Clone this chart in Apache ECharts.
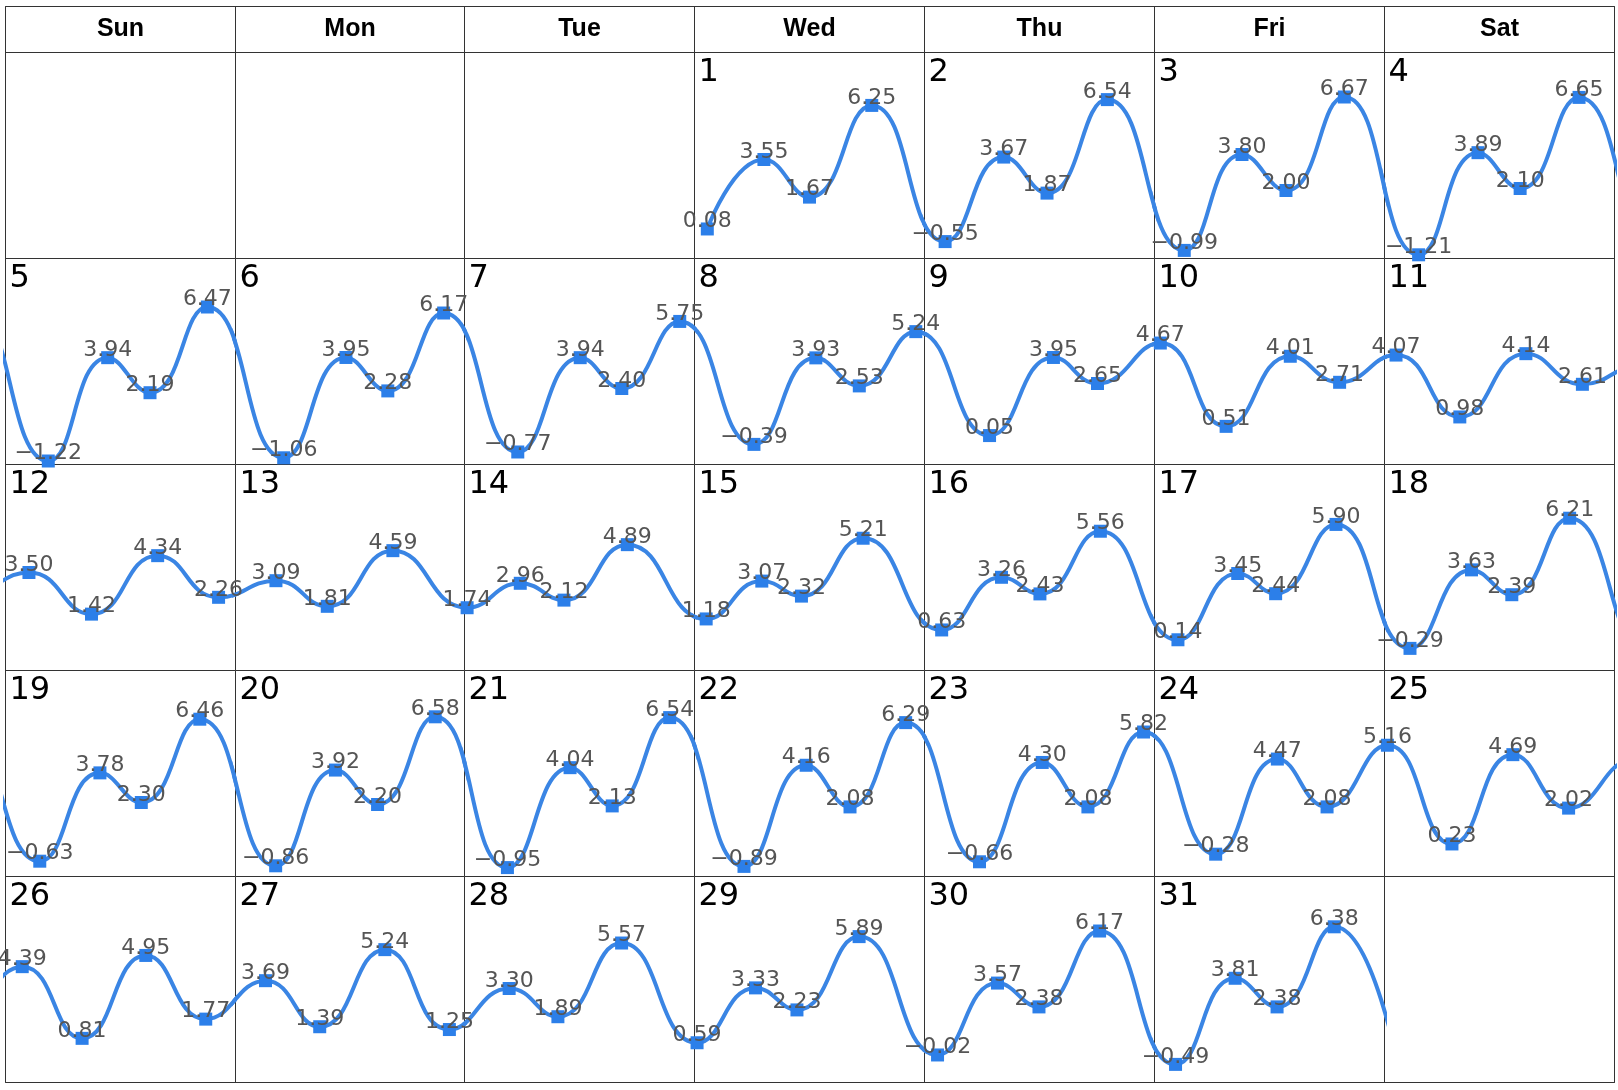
<!DOCTYPE html>
<html>
<head>
<meta charset="utf-8">
<script src="https://cdn.jsdelivr.net/npm/echarts@6/dist/echarts.min.js"></script>
<style>
html,body{margin:0;padding:0;background:#fff;}
#chart{width:1618px;height:1090px;}
</style>
</head>
<body>
<div id="chart"></div>
<script>
// ---- data (January 2025, one continuous series, ~4 readings per day) ----
const weekdays = ['Sun', 'Mon', 'Tue', 'Wed', 'Thu', 'Fri', 'Sat'];
const weeks = ['W1', 'W2', 'W3', 'W4', 'W5'];
const daysInMonth = 31;
const firstWeekday = 3; // 2025-01-01 is a Wednesday

// day of month of each reading (32 = Feb 1, only its tail is visible)
const pointDay = [
  1,1,1,1, 2,2,2,2, 3,3,3,3, 4,4,4,4, 5,5,5,5, 6,6,6,6, 7,7,7,7, 8,8,8,8,
  9,9,9, 10,10,10,10, 11,11,11,11, 12,12,12,12, 13,13,13, 14,14,14,14,
  15,15,15,15, 16,16,16,16, 17,17,17,17, 18,18,18,18, 19,19,19,19,
  20,20,20,20, 21,21,21,21, 22,22,22,22, 23,23,23,23, 24,24,24,
  25,25,25,25, 26,26,26,26, 27,27,27,27, 28,28,28, 29,29,29,29,
  30,30,30,30, 31,31,31,31, 32
];
// hour of day of each reading
const pointHour = [
  1.33,7.24,12.0,18.5, 2.16,8.28,12.8,19.1, 3.13,9.16,13.75,19.84, 3.6,9.8,14.2,20.35,
  4.52,10.72,15.14,21.13, 5.1,11.6,15.97,21.8, 5.54,12.06,16.4,22.45, 6.2,12.66,17.2,23.1,
  6.8,13.47,18.07, 0.63,7.5,14.2,19.35, 1.24,7.9,14.8,20.7, 2.5,9.03,15.94,22.3, 4.29,9.65,16.5,
  0.25,5.8,10.36,16.98, 1.21,7.02,11.16,17.6, 1.8,8.05,12.06,18.37, 2.47,8.71,12.67,18.97,
  2.7,9.12,13.33,19.37, 3.63,9.91,14.23,20.34, 4.26,10.5,14.9,20.92, 4.46,11.0,15.4,21.4,
  5.16,11.65,16.23,22.04, 5.75,12.3,17.07,22.88, 6.41,12.85,18.04, 0.34,7.08,13.44,19.26,
  1.8,8.05,14.7,20.96, 3.2,8.86,15.66,22.4, 4.64,9.73,16.38, 0.26,6.36,10.69,17.18,
  1.37,7.63,11.96,18.29, 2.22,8.44,12.82,18.79, 1.6
];
// reading values
const pointValue = [
  0.08,3.55,1.67,6.25, -0.55,3.67,1.87,6.54, -0.99,3.80,2.00,6.67, -1.21,3.89,2.10,6.65,
  -1.22,3.94,2.19,6.47, -1.06,3.95,2.28,6.17, -0.77,3.94,2.40,5.75, -0.39,3.93,2.53,5.24,
  0.05,3.95,2.65, 4.67,0.51,4.01,2.71, 4.07,0.98,4.14,2.61, 3.50,1.42,4.34,2.26, 3.09,1.81,4.59,
  1.74,2.96,2.12,4.89, 1.18,3.07,2.32,5.21, 0.63,3.26,2.43,5.56, 0.14,3.45,2.44,5.90,
  -0.29,3.63,2.39,6.21, -0.63,3.78,2.30,6.46, -0.86,3.92,2.20,6.58, -0.95,4.04,2.13,6.54,
  -0.89,4.16,2.08,6.29, -0.66,4.30,2.08,5.82, -0.28,4.47,2.08, 5.16,0.23,4.69,2.02,
  4.39,0.81,4.95,1.77, 3.69,1.39,5.24,1.25, 3.30,1.89,5.57, 0.59,3.33,2.23,5.89,
  -0.02,3.57,2.38,6.17, -0.49,3.81,2.38,6.38, -0.9
];

// ---- build ----
const seriesPoints = pointValue.map((v, i) => [(pointDay[i] - 1) * 24 + pointHour[i], v]);
const yMin = Math.min.apply(null, pointValue.slice(0, pointValue.length - 1));
const yMax = Math.max.apply(null, pointValue);

// layout
const L = 5, T = 6, W = 1609, H = 1076, HEAD = 46;
const cw = W / 7, ch = (H - HEAD) / 5;
const GRID_TOP = 45, GRID_BOTTOM = 3;

const bodyData = [];
const grids = [], xAxes = [], yAxes = [], series = [];
const LINE = '#3a85e4', SYM = '#2c7fe9';

function fmt(v) {
  return (v < 0 ? '\u2212' : '') + Math.abs(v).toFixed(2);
}

for (let d = 1; d <= daysInMonth; d++) {
  const idx = d - 1 + firstWeekday;
  const col = idx % 7, row = Math.floor(idx / 7);
  bodyData.push({ coord: [weekdays[col], weeks[row]], value: String(d) });
  const i = d - 1;
  grids.push({
    left: L + col * cw,
    top: T + HEAD + row * ch + GRID_TOP,
    width: cw,
    height: ch - GRID_TOP - GRID_BOTTOM,
    containLabel: false
  });
  xAxes.push({ type: 'value', gridIndex: i, min: (d - 1) * 24, max: d * 24, show: false });
  yAxes.push({ type: 'value', gridIndex: i, min: yMin, max: yMax, show: false });
  series.push({
    type: 'line',
    xAxisIndex: i, yAxisIndex: i,
    data: seriesPoints,
    smooth: true,
    clip: true,
    symbol: 'rect',
    symbolSize: 13,
    showSymbol: true,
    lineStyle: { width: 4, color: LINE },
    itemStyle: { color: SYM },
    label: {
      show: true, position: 'top', distance: 5, offset: [0, 15],
      fontFamily: 'DejaVu Sans', fontSize: 22, color: '#555',
      formatter: p => fmt(p.value[1])
    },
    emphasis: { disabled: true },
    silent: true,
    animation: false
  });
}

const chart = echarts.init(document.getElementById('chart'));
chart.setOption({
  backgroundColor: '#fff',
  animation: false,
  matrix: {
    left: L, top: T, width: W, height: H,
    x: {
      data: weekdays,
      levelSize: HEAD,
      label: { fontFamily: 'Liberation Sans', fontWeight: 'bold', fontSize: 25, color: '#000' },
      itemStyle: { color: '#fff', borderColor: '#333', borderWidth: 1 },
      dividerLineStyle: { color: '#333', width: 1 }
    },
    y: { data: weeks, show: false },
    body: {
      data: bodyData,
      label: { position: 'insideTopLeft', fontFamily: 'DejaVu Sans', fontSize: 32, color: '#000', padding: [4, 0, 0, 4] },
      itemStyle: { color: '#fff', borderColor: '#333', borderWidth: 1 }
    },
    backgroundStyle: { color: '#fff', borderColor: '#333', borderWidth: 1 }
  },
  grid: grids,
  xAxis: xAxes,
  yAxis: yAxes,
  series: series
});
</script>
</body>
</html>
